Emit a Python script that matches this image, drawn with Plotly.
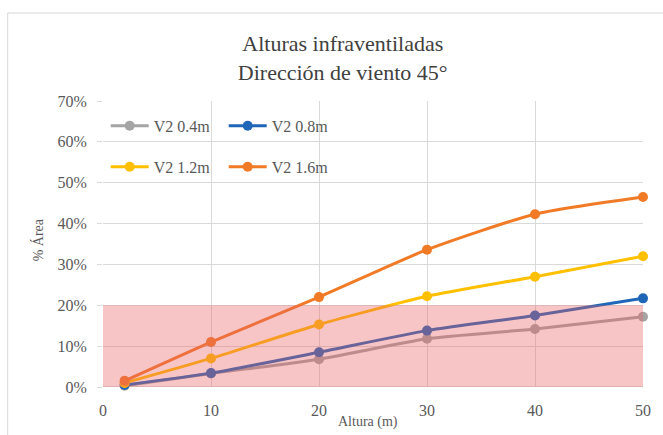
import plotly.graph_objects as go

# Height of the building (m)
altura = [2, 10, 20, 30, 40, 50]

# Under-ventilated area share (%) for each V2 opening size
v2_04 = [0.3, 3.3, 6.8, 11.8, 14.2, 17.2]
v2_08 = [0.5, 3.4, 8.5, 13.8, 17.5, 21.7]
v2_12 = [1.0, 7.0, 15.3, 22.2, 27.0, 32.0]
v2_16 = [1.5, 11.0, 22.0, 33.6, 42.3, 46.5]

series = [
    ("V2 0.4m", v2_04, "#A5A5A5", "legend"),
    ("V2 0.8m", v2_08, "#1F66B8", "legend"),
    ("V2 1.2m", v2_12, "#FFC000", "legend2"),
    ("V2 1.6m", v2_16, "#F07A26", "legend2"),
]

y_ticks = [0, 10, 20, 30, 40, 50, 60, 70]
x_ticks = [0, 10, 20, 30, 40, 50]
umbral = 20  # threshold band upper limit (%)

FONT = "'Liberation Serif', 'Times New Roman', serif"

fig = go.Figure()
for name, vals, color, leg in series:
    fig.add_trace(go.Scatter(
        x=altura, y=vals, name=name, mode="lines+markers",
        line=dict(color=color, width=3, shape="spline", smoothing=0.6),
        marker=dict(color=color, size=10),
        legend=leg, cliponaxis=False,
    ))

# translucent threshold band drawn over the curves
fig.add_shape(type="rect", xref="x", yref="y", x0=0, x1=50, y0=0, y1=umbral,
              fillcolor="rgba(235,95,100,0.36)", line=dict(width=0), layer="above")

# chart frame
fig.add_shape(type="rect", xref="paper", yref="paper",
              x0=-0.1765, x1=1.2, y0=-0.4, y1=1.3077,
              line=dict(color="#D9D9D9", width=1), fillcolor="rgba(0,0,0,0)", layer="below")

fig.update_layout(
    width=663, height=435,
    margin=dict(l=103, r=16, t=101, b=48),
    paper_bgcolor="white", plot_bgcolor="white",
    font=dict(family=FONT, color="#595959"),
    title=dict(text="Alturas infraventiladas<br>Dirección de viento 45°",
               x=0.517, xref="container", xanchor="center",
               y=0.882, yref="container", yanchor="middle",
               font=dict(family=FONT, size=22, color="#404040")),
    legend=dict(orientation="h", x=0.005, y=0.913, xanchor="left", yanchor="middle",
                font=dict(family=FONT, size=16, color="#595959"),
                bgcolor="rgba(0,0,0,0)", entrywidth=65, itemwidth=38),
    legend2=dict(orientation="h", x=0.005, y=0.77, xanchor="left", yanchor="middle",
                 font=dict(family=FONT, size=16, color="#595959"),
                 bgcolor="rgba(0,0,0,0)", entrywidth=65, itemwidth=38),
    xaxis=dict(range=[0, 50], tickvals=x_ticks, showgrid=True, gridcolor="#D9D9D9",
               zeroline=False, showline=False,
               ticks="outside", ticklen=9, tickcolor="rgba(0,0,0,0)",
               tickfont=dict(family=FONT, size=16, color="#595959")),
    yaxis=dict(range=[0, 70], tickvals=y_ticks, ticktext=[f"{v}%" for v in y_ticks],
               showgrid=True, gridcolor="#D9D9D9", zeroline=False,
               showline=False, ticks="outside", ticklen=5, tickcolor="#D9D9D9",
               ticklabelstandoff=7,
               tickfont=dict(family=FONT, size=16, color="#595959")),
    showlegend=True,
    annotations=[
        dict(text="Altura (m)", xref="paper", yref="paper", x=0.491, y=-0.123,
             xanchor="center", yanchor="middle", showarrow=False,
             font=dict(family=FONT, size=14, color="#595959")),
        dict(text="% Área", xref="paper", yref="paper", x=-0.121, y=0.515,
             xanchor="center", yanchor="middle", showarrow=False, textangle=-90,
             font=dict(family=FONT, size=14, color="#595959")),
    ],
)

# bottom axis baseline
fig.add_shape(type="line", xref="paper", yref="y", x0=0, x1=1, y0=0, y1=0,
              line=dict(color="#BFBFBF", width=1), layer="below")

fig.write_html("out.html")
